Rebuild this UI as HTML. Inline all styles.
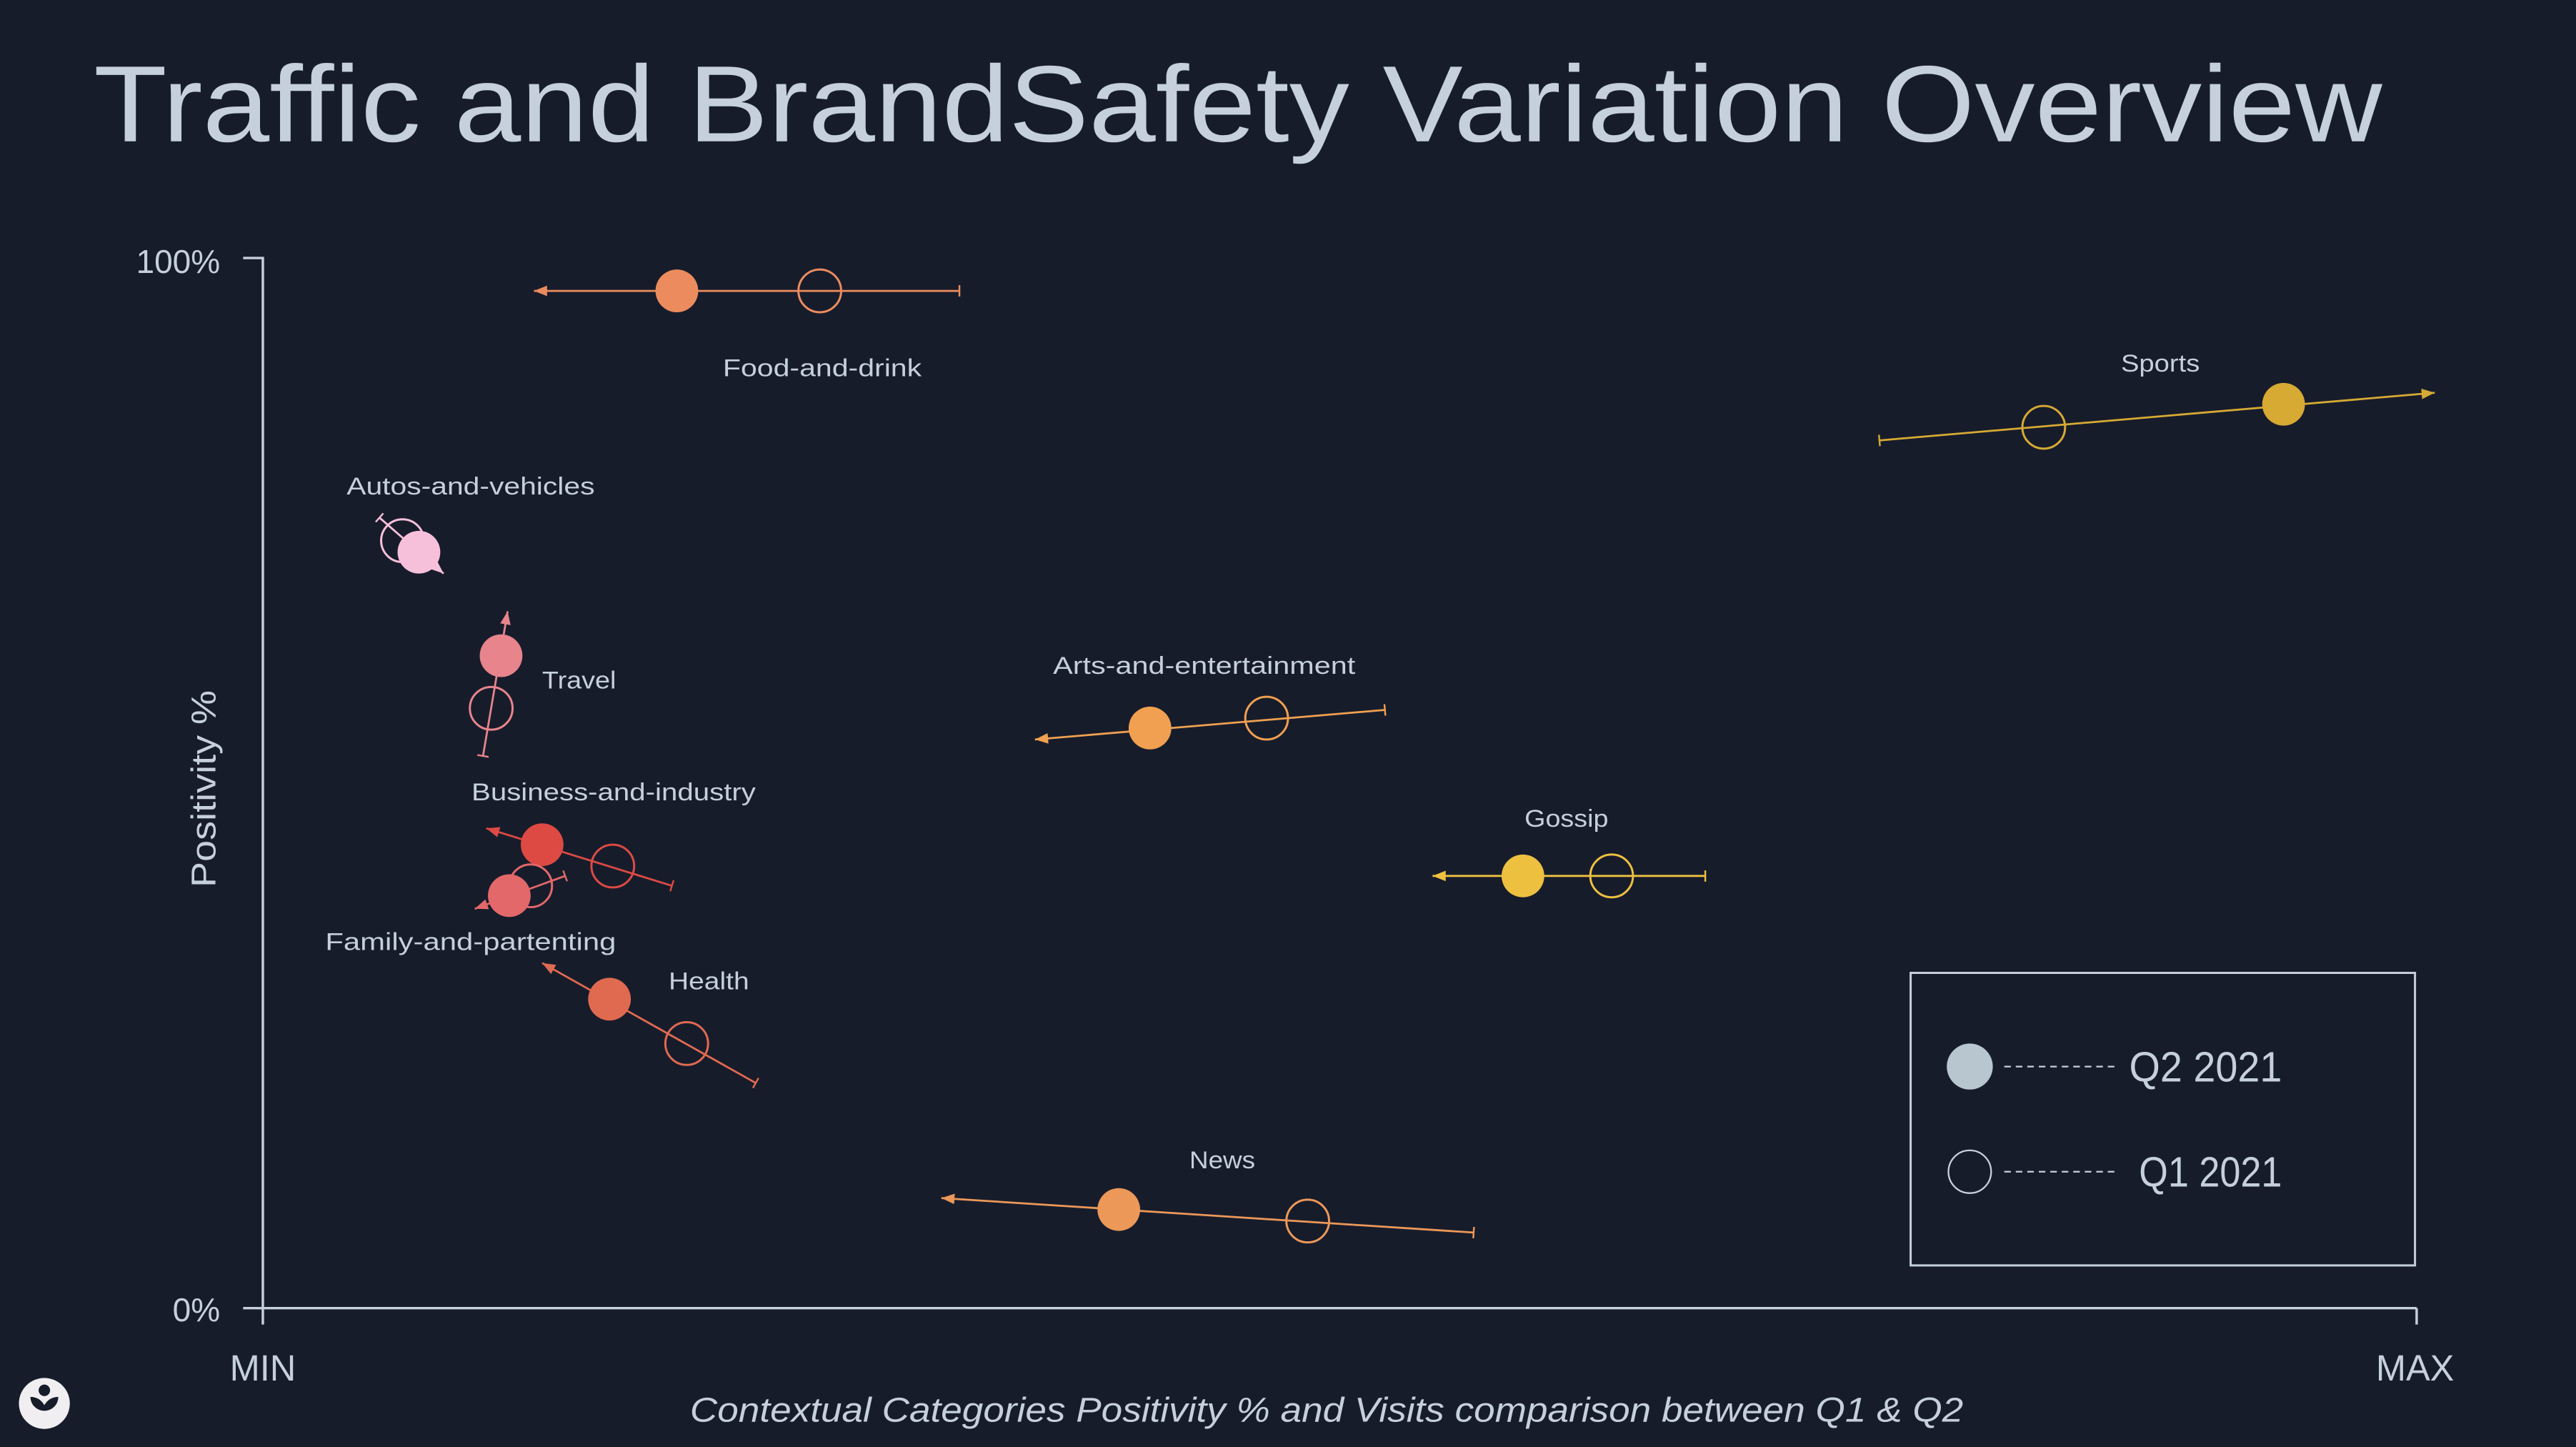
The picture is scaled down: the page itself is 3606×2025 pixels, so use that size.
<!DOCTYPE html>
<html><head><meta charset="utf-8"><style>
html,body{margin:0;padding:0;background:#171c2b;}
svg{display:block}
text{font-family:"Liberation Sans",sans-serif;fill:#c5d0dc}
</style></head><body>
<svg width="3606" height="2025" viewBox="0 0 1568 880.5" preserveAspectRatio="none" xmlns="http://www.w3.org/2000/svg">
<defs>
<marker id="a1" viewBox="0 0 10 10" refX="10" refY="5" markerWidth="8" markerHeight="8" markerUnits="userSpaceOnUse" orient="auto"><path d="M0,1L10,5L0,9z" fill="#ec8c5e"/></marker>
<marker id="t1" viewBox="0 0 10 10" refX="5" refY="5" markerWidth="7" markerHeight="7" markerUnits="userSpaceOnUse" orient="auto"><path d="M5,0V10" stroke="#ec8c5e" stroke-width="1.5"/></marker>
<marker id="a2" viewBox="0 0 10 10" refX="10" refY="5" markerWidth="8" markerHeight="8" markerUnits="userSpaceOnUse" orient="auto"><path d="M0,1L10,5L0,9z" fill="#d6aa33"/></marker>
<marker id="t2" viewBox="0 0 10 10" refX="5" refY="5" markerWidth="7" markerHeight="7" markerUnits="userSpaceOnUse" orient="auto"><path d="M5,0V10" stroke="#d6aa33" stroke-width="1.5"/></marker>
<marker id="a3" viewBox="0 0 10 10" refX="10" refY="5" markerWidth="10" markerHeight="10" markerUnits="userSpaceOnUse" orient="auto"><path d="M0,1L10,5L0,9z" fill="#f7c0da"/></marker>
<marker id="t3" viewBox="0 0 10 10" refX="5" refY="5" markerWidth="7" markerHeight="7" markerUnits="userSpaceOnUse" orient="auto"><path d="M5,0V10" stroke="#f7c0da" stroke-width="1.5"/></marker>
<marker id="a4" viewBox="0 0 10 10" refX="10" refY="5" markerWidth="8" markerHeight="8" markerUnits="userSpaceOnUse" orient="auto"><path d="M0,1L10,5L0,9z" fill="#e8848c"/></marker>
<marker id="t4" viewBox="0 0 10 10" refX="5" refY="5" markerWidth="7" markerHeight="7" markerUnits="userSpaceOnUse" orient="auto"><path d="M5,0V10" stroke="#e8848c" stroke-width="1.5"/></marker>
<marker id="a5" viewBox="0 0 10 10" refX="10" refY="5" markerWidth="8" markerHeight="8" markerUnits="userSpaceOnUse" orient="auto"><path d="M0,1L10,5L0,9z" fill="#f0a050"/></marker>
<marker id="t5" viewBox="0 0 10 10" refX="5" refY="5" markerWidth="7" markerHeight="7" markerUnits="userSpaceOnUse" orient="auto"><path d="M5,0V10" stroke="#f0a050" stroke-width="1.5"/></marker>
<marker id="a6" viewBox="0 0 10 10" refX="10" refY="5" markerWidth="8" markerHeight="8" markerUnits="userSpaceOnUse" orient="auto"><path d="M0,1L10,5L0,9z" fill="#dd4a44"/></marker>
<marker id="t6" viewBox="0 0 10 10" refX="5" refY="5" markerWidth="7" markerHeight="7" markerUnits="userSpaceOnUse" orient="auto"><path d="M5,0V10" stroke="#dd4a44" stroke-width="1.5"/></marker>
<marker id="a7" viewBox="0 0 10 10" refX="10" refY="5" markerWidth="8" markerHeight="8" markerUnits="userSpaceOnUse" orient="auto"><path d="M0,1L10,5L0,9z" fill="#e3686a"/></marker>
<marker id="t7" viewBox="0 0 10 10" refX="5" refY="5" markerWidth="7" markerHeight="7" markerUnits="userSpaceOnUse" orient="auto"><path d="M5,0V10" stroke="#e3686a" stroke-width="1.5"/></marker>
<marker id="a8" viewBox="0 0 10 10" refX="10" refY="5" markerWidth="8" markerHeight="8" markerUnits="userSpaceOnUse" orient="auto"><path d="M0,1L10,5L0,9z" fill="#e06a50"/></marker>
<marker id="t8" viewBox="0 0 10 10" refX="5" refY="5" markerWidth="7" markerHeight="7" markerUnits="userSpaceOnUse" orient="auto"><path d="M5,0V10" stroke="#e06a50" stroke-width="1.5"/></marker>
<marker id="a9" viewBox="0 0 10 10" refX="10" refY="5" markerWidth="8" markerHeight="8" markerUnits="userSpaceOnUse" orient="auto"><path d="M0,1L10,5L0,9z" fill="#edc040"/></marker>
<marker id="t9" viewBox="0 0 10 10" refX="5" refY="5" markerWidth="7" markerHeight="7" markerUnits="userSpaceOnUse" orient="auto"><path d="M5,0V10" stroke="#edc040" stroke-width="1.5"/></marker>
<marker id="a10" viewBox="0 0 10 10" refX="10" refY="5" markerWidth="8" markerHeight="8" markerUnits="userSpaceOnUse" orient="auto"><path d="M0,1L10,5L0,9z" fill="#ec9858"/></marker>
<marker id="t10" viewBox="0 0 10 10" refX="5" refY="5" markerWidth="7" markerHeight="7" markerUnits="userSpaceOnUse" orient="auto"><path d="M5,0V10" stroke="#ec9858" stroke-width="1.5"/></marker>
</defs>
<rect width="1568" height="880.5" fill="#171c2b"/>

<text x="57" y="86" font-size="66" textLength="1393" lengthAdjust="spacingAndGlyphs">Traffic and BrandSafety Variation Overview</text>

<g stroke="#c5d0dc" stroke-width="1.5" fill="none">
<path d="M148,157H160V796"/>
<path d="M148,796H1471"/>
<path d="M160,796V806M1471,796V806"/>
</g>
<text x="134" y="166" font-size="20" text-anchor="end">100%</text>
<text x="134" y="804" font-size="20" text-anchor="end">0%</text>
<text x="160" y="840" font-size="22" text-anchor="middle">MIN</text>
<text x="1470" y="840" font-size="22" text-anchor="middle">MAX</text>
<text transform="translate(131,480) rotate(-90)" font-size="21" text-anchor="middle" textLength="120" lengthAdjust="spacingAndGlyphs">Positivity %</text>
<text x="420" y="865" font-size="21" font-style="italic" textLength="775" lengthAdjust="spacingAndGlyphs">Contextual Categories Positivity % and Visits comparison between Q1 &amp; Q2</text>

<g font-size="15">
<line x1="584" y1="177" x2="325" y2="177" stroke="#ec8c5e" stroke-width="1.2" marker-start="url(#t1)" marker-end="url(#a1)"/>
<circle cx="499" cy="177" r="13" fill="none" stroke="#ec8c5e" stroke-width="1.3"/>
<circle cx="412" cy="177" r="13" fill="#ec8c5e"/>
<text x="440" y="229" textLength="121" lengthAdjust="spacingAndGlyphs">Food-and-drink</text>

<line x1="1144" y1="268" x2="1482" y2="239" stroke="#d6aa33" stroke-width="1.2" marker-start="url(#t2)" marker-end="url(#a2)"/>
<circle cx="1244" cy="260" r="13" fill="none" stroke="#d6aa33" stroke-width="1.3"/>
<circle cx="1390" cy="246" r="13" fill="#d6aa33"/>
<text x="1291" y="226" textLength="48" lengthAdjust="spacingAndGlyphs">Sports</text>

<line x1="231" y1="315" x2="270" y2="349" stroke="#f7c0da" stroke-width="1.2" marker-start="url(#t3)" marker-end="url(#a3)"/>
<circle cx="245" cy="329" r="13" fill="none" stroke="#f7c0da" stroke-width="1.3"/>
<circle cx="255" cy="336" r="13" fill="#f7c0da"/>
<text x="211" y="301" textLength="151" lengthAdjust="spacingAndGlyphs">Autos-and-vehicles</text>

<line x1="294" y1="460" x2="309" y2="372" stroke="#e8848c" stroke-width="1.2" marker-start="url(#t4)" marker-end="url(#a4)"/>
<circle cx="299" cy="431" r="13" fill="none" stroke="#e8848c" stroke-width="1.3"/>
<circle cx="305" cy="399" r="13" fill="#e8848c"/>
<text x="330" y="419" textLength="45" lengthAdjust="spacingAndGlyphs">Travel</text>

<line x1="843" y1="432" x2="630" y2="450" stroke="#f0a050" stroke-width="1.2" marker-start="url(#t5)" marker-end="url(#a5)"/>
<circle cx="771" cy="437" r="13" fill="none" stroke="#f0a050" stroke-width="1.3"/>
<circle cx="700" cy="443" r="13" fill="#f0a050"/>
<text x="641" y="410" textLength="184" lengthAdjust="spacingAndGlyphs">Arts-and-entertainment</text>

<line x1="409" y1="539" x2="296" y2="504" stroke="#dd4a44" stroke-width="1.2" marker-start="url(#t6)" marker-end="url(#a6)"/>
<circle cx="373" cy="527" r="13" fill="none" stroke="#dd4a44" stroke-width="1.3"/>
<circle cx="330" cy="514" r="13" fill="#dd4a44"/>
<text x="287" y="487" textLength="173" lengthAdjust="spacingAndGlyphs">Business-and-industry</text>

<line x1="344" y1="533" x2="289" y2="553" stroke="#e3686a" stroke-width="1.2" marker-start="url(#t7)" marker-end="url(#a7)"/>
<circle cx="323" cy="539" r="13" fill="none" stroke="#e3686a" stroke-width="1.3"/>
<circle cx="310" cy="545" r="13" fill="#e3686a"/>
<text x="198" y="578" textLength="177" lengthAdjust="spacingAndGlyphs">Family-and-partenting</text>

<line x1="460" y1="659" x2="330" y2="586" stroke="#e06a50" stroke-width="1.2" marker-start="url(#t8)" marker-end="url(#a8)"/>
<circle cx="418" cy="635" r="13" fill="none" stroke="#e06a50" stroke-width="1.3"/>
<circle cx="371" cy="608" r="13" fill="#e06a50"/>
<text x="407" y="602" textLength="49" lengthAdjust="spacingAndGlyphs">Health</text>

<line x1="1038" y1="533" x2="872" y2="533" stroke="#edc040" stroke-width="1.2" marker-start="url(#t9)" marker-end="url(#a9)"/>
<circle cx="981" cy="533" r="13" fill="none" stroke="#edc040" stroke-width="1.3"/>
<circle cx="927" cy="533" r="13" fill="#edc040"/>
<text x="928" y="503" textLength="51" lengthAdjust="spacingAndGlyphs">Gossip</text>

<line x1="897" y1="750" x2="573" y2="729" stroke="#ec9858" stroke-width="1.2" marker-start="url(#t10)" marker-end="url(#a10)"/>
<circle cx="796" cy="743" r="13" fill="none" stroke="#ec9858" stroke-width="1.3"/>
<circle cx="681" cy="736" r="13" fill="#ec9858"/>
<text x="724" y="711" textLength="40" lengthAdjust="spacingAndGlyphs">News</text>
</g>

<rect x="1163" y="592" width="307" height="178" fill="none" stroke="#c5d0dc" stroke-width="1.3"/>
<circle cx="1199" cy="649" r="14" fill="#b8c6d0"/>
<line x1="1220" y1="649" x2="1288" y2="649" stroke="#c5d0dc" stroke-width="1" stroke-dasharray="4,3"/>
<text x="1296" y="658" font-size="26" textLength="93" lengthAdjust="spacingAndGlyphs">Q2 2021</text>
<circle cx="1199" cy="713" r="13" fill="none" stroke="#c5d0dc" stroke-width="1"/>
<line x1="1220" y1="713" x2="1288" y2="713" stroke="#c5d0dc" stroke-width="1" stroke-dasharray="4,3"/>
<text x="1302" y="722" font-size="26" textLength="87" lengthAdjust="spacingAndGlyphs">Q1 2021</text>

<circle cx="27" cy="854" r="15.5" fill="#f0eef0"/>
<circle cx="27" cy="846" r="3.5" fill="#171c2b"/>
<path d="M18.5,850 A8.5,8.5 0 0 0 35.5,850 Q30,850 27,855 Q24,850 18.5,850z" fill="#171c2b"/>
</svg>
</body></html>
